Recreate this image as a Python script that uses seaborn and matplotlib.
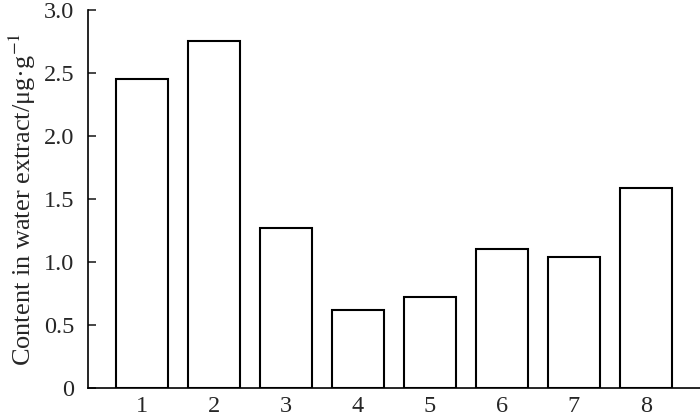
import matplotlib
matplotlib.use("Agg")
import matplotlib.pyplot as plt
import seaborn as sns
import pandas as pd

# sample numbers and content values
samples = ["1", "2", "3", "4", "5", "6", "7", "8"]
content = [2.45, 2.75, 1.27, 0.62, 0.72, 1.10, 1.04, 1.59]
yticks = [0, 0.5, 1.0, 1.5, 2.0, 2.5, 3.0]
ytick_labels = ["0", "0.5", "1.0", "1.5", "2.0", "2.5", "3.0"]

sns.set_style("white")
plt.rcParams["font.family"] = ["Liberation Serif", "DejaVu Serif"]
plt.rcParams["mathtext.fontset"] = "stix"

df = pd.DataFrame({"sample": samples, "content": content})

fig = plt.figure(figsize=(7, 4.18), dpi=100)
ax = fig.add_axes([0.1257, 0.0718, 0.8743, 0.9043])

sns.barplot(data=df, x="sample", y="content", color="white",
            edgecolor="black", linewidth=1.5, width=0.72, saturation=1, ax=ax)

ax.set_xlim(-0.75, 7.75)
ax.set_ylim(0, 3.0)
ax.set_yticks(yticks)
ax.set_yticklabels(ytick_labels)
ax.set_xlabel("")
ax.set_ylabel("Content in water extract/μg·g$^{-1}$", fontsize=19, labelpad=4)

for side in ["top", "right"]:
    ax.spines[side].set_visible(False)
for side in ["left", "bottom"]:
    ax.spines[side].set_linewidth(1.2)
    ax.spines[side].set_color("black")

ax.tick_params(axis="y", direction="in", length=6, width=1.2, labelsize=17.5, pad=10, left=True)
ax.tick_params(axis="x", length=0, labelsize=17.5, pad=6)

fig.savefig("out.png", dpi=100)
